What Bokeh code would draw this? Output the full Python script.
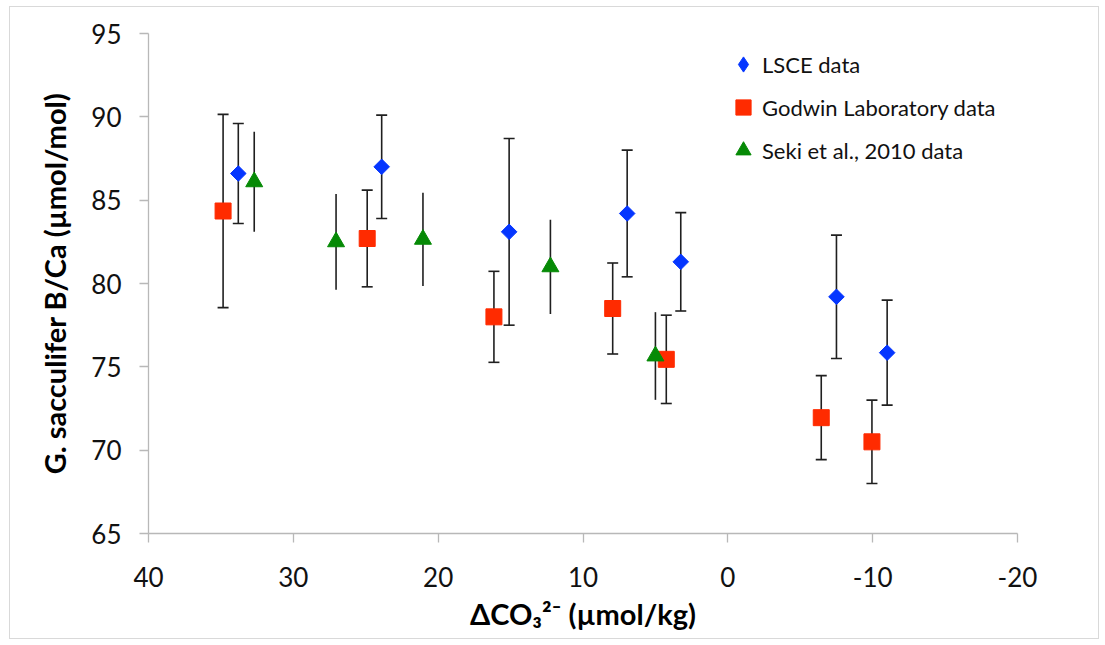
import math
from bokeh.plotting import figure
from bokeh.models import (Range1d, Whisker, TeeHead, ColumnDataSource, Legend,
                          LegendItem, SingleIntervalTicker, PrintfTickFormatter)
from bokeh.embed import file_html
from bokeh.resources import INLINE

# ---- data ----
lsce_x = [33.8, 23.9, 15.1, 6.95, 3.25, -7.5, -11.0]
lsce_y = [86.6, 87.0, 83.1, 84.2, 81.3, 79.2, 75.85]
lsce_err = [3.0, 3.1, 5.6, 3.8, 2.95, 3.7, 3.15]

godwin_x = [34.85, 24.9, 16.15, 7.95, 4.25, -6.45, -9.95]
godwin_y = [84.35, 82.7, 78.0, 78.5, 75.45, 71.95, 70.5]
godwin_err = [5.8, 2.9, 2.73, 2.73, 2.65, 2.52, 2.5]

seki_x = [32.7, 27.05, 21.05, 12.25, 5.0]
seki_y = [86.1, 82.5, 82.65, 81.0, 75.65]
seki_err = [3.0, 2.87, 2.8, 2.83, 2.63]

series_names = ["LSCE data", "Godwin Laboratory data", "Seki et al., 2010 data"]
x_title = "\u0394CO\u2083\u00b2\u207b (\u00b5mol/kg)"
y_title = "G. sacculifer B/Ca (\u00b5mol/mol)"

FONT = "Lato"
BAR = "#1f1f1f"
BLUE, RED, GREEN = "#0536ff", "#ff2b00", "#068a06"

def src(xs, ys, es):
    return ColumnDataSource(dict(x=xs, y=ys,
                                 lo=[a - b for a, b in zip(ys, es)],
                                 hi=[a + b for a, b in zip(ys, es)]))

p = figure(width=1090, height=633,
           x_range=Range1d(40, -20), y_range=Range1d(65, 95),
           output_backend="svg", toolbar_location=None,
           min_border_left=138, min_border_right=83,
           min_border_top=26, min_border_bottom=107,
           styles={"border": "1px solid #d9d9d9",
                   "margin-left": "9px", "margin-top": "6px"})
p.outline_line_color = None
p.xgrid.visible = False
p.ygrid.visible = False
p.background_fill_color = "white"
p.border_fill_color = "white"

p.xaxis.ticker = SingleIntervalTicker(interval=10, num_minor_ticks=0)
p.yaxis.ticker = SingleIntervalTicker(interval=5, num_minor_ticks=0)
p.xaxis.formatter = PrintfTickFormatter(format="%d")
p.yaxis.formatter = PrintfTickFormatter(format="%d")
for ax in (p.xaxis[0], p.yaxis[0]):
    ax.axis_line_color = "#b8b8b8"
    ax.axis_line_width = 1.3
    ax.major_tick_line_color = "#b8b8b8"
    ax.major_tick_line_width = 1.3
    ax.major_tick_out = 9
    ax.major_tick_in = 0
    ax.minor_tick_line_color = None
    ax.major_label_text_font = FONT
    ax.major_label_text_font_size = "26px"
    ax.major_label_text_color = "#111111"
    ax.axis_label_text_font = FONT
    ax.axis_label_text_font_style = "bold"
    ax.axis_label_text_font_size = "29px"
    ax.axis_label_text_color = "#000000"
p.xaxis.axis_label = x_title
p.yaxis.axis_label = y_title
p.xaxis.major_label_standoff = 24
p.yaxis.major_label_standoff = 18
p.xaxis.axis_label_standoff = 6
p.yaxis.axis_label_standoff = 16

# error bars
s_l = src(lsce_x, lsce_y, lsce_err)
s_g = src(godwin_x, godwin_y, godwin_err)
s_s = src(seki_x, seki_y, seki_err)

def cap():
    return TeeHead(size=11, line_color=BAR, line_width=1.6)

for s, capped in ((s_g, True), (s_l, True), (s_s, False)):
    w = Whisker(source=s, base="x", upper="hi", lower="lo", dimension="height",
                line_color=BAR, line_width=1.6, level="underlay",
                upper_head=cap() if capped else None,
                lower_head=cap() if capped else None)
    p.add_layout(w)

# diamond-shaped swatch for the legend (sits hidden under the plot diamonds)
r_l_key = p.scatter("x", "y", source=s_l, marker="diamond", size=13,
                    fill_color=BLUE, line_color=BLUE)
r_l = p.scatter("x", "y", source=s_l, marker="square", size=11,
                angle=math.pi / 4, fill_color=BLUE, line_color=BLUE)
r_g = p.scatter("x", "y", source=s_g, marker="square", size=16,
                fill_color=RED, line_color=RED)
r_s = p.scatter("x", "y", source=s_s, marker="triangle", size=17,
                fill_color=GREEN, line_color=GREEN)

legend = Legend(items=[LegendItem(label=series_names[0], renderers=[r_l_key]),
                       LegendItem(label=series_names[1], renderers=[r_g]),
                       LegendItem(label=series_names[2], renderers=[r_s])],
                location=(576, 364), orientation="vertical",
                background_fill_alpha=0, border_line_color=None,
                padding=0, margin=0, spacing=5,
                glyph_width=38, glyph_height=38, label_height=24,
                label_standoff=0,
                label_text_font=FONT, label_text_font_size="22px",
                label_text_color="#111111")
p.add_layout(legend, "center")

open("out.html", "w").write(file_html(p, INLINE))
